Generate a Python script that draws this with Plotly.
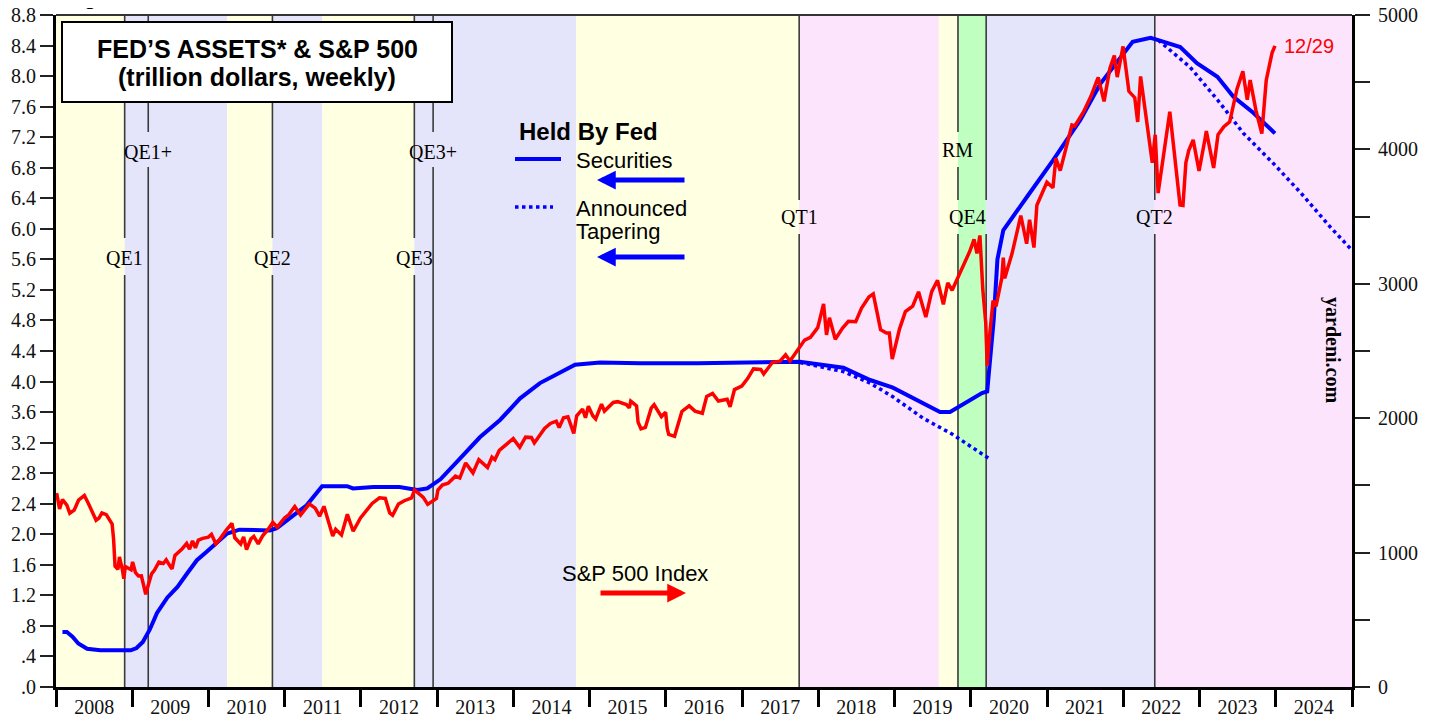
import plotly.graph_objects as go

# ---------------- data ----------------
sec_dates = ["2008-02-01","2008-02-22","2008-03-20","2008-04-17","2008-05-29","2008-07-31","2008-10-01","2008-12-24",
             "2009-01-21","2009-02-20","2009-03-25","2009-04-29","2009-06-17","2009-08-05","2009-09-21","2009-11-06","2009-12-23",
             "2010-03-31","2010-05-29","2010-10-22","2010-11-24","2011-01-26","2011-04-16","2011-06-29","2011-10-27","2011-11-24",
             "2012-02-29","2012-07-04","2012-09-27","2012-11-14","2013-01-16","2013-04-06","2013-07-24","2013-10-30",
             "2014-02-02","2014-05-08","2014-08-11","2014-10-23","2015-02-20","2015-09-01","2016-06-01","2017-03-01","2017-10-04",
             "2018-05-01","2018-09-06","2018-12-24","2019-04-01","2019-08-07","2019-09-24","2019-12-16","2020-02-24","2020-03-20",
             "2020-04-20","2020-05-08","2020-06-05","2020-09-27","2021-01-30","2021-06-10","2021-09-13","2022-02-15","2022-05-12",
             "2022-06-18","2022-10-01","2022-12-20","2023-03-28","2023-06-13","2023-09-16","2023-12-29"]
sec_values = [0.72,0.72,0.66,0.57,0.50,0.48,0.48,0.48,
              0.51,0.59,0.75,0.97,1.17,1.31,1.49,1.66,1.77,
              2.01,2.06,2.05,2.08,2.21,2.38,2.63,2.63,2.60,
              2.62,2.62,2.58,2.60,2.72,2.95,3.27,3.50,
              3.78,3.98,4.12,4.22,4.25,4.24,4.24,4.25,4.26,
              4.18,4.02,3.92,3.78,3.60,3.60,3.73,3.85,3.87,
              4.80,5.60,5.98,6.42,6.90,7.43,7.90,8.45,8.50,
              8.47,8.38,8.17,7.99,7.73,7.52,7.25]

taper_dates = ["2017-10-05","2018-05-01","2018-09-06","2018-12-24","2019-05-18","2019-10-05","2020-04-04", None,
               "2022-06-18","2022-11-16","2023-03-28","2023-07-31","2023-12-20","2024-05-01","2024-09-20","2024-12-25","2025-01-01"]
taper_values = [4.25,4.13,3.98,3.80,3.52,3.31,2.98, None,
                8.47,8.12,7.69,7.25,6.86,6.47,6.02,5.75,5.72]

sp_dates = ["2008-01-04","2008-01-18","2008-02-01","2008-02-22","2008-03-07","2008-03-28","2008-04-18","2008-05-16","2008-06-06","2008-06-27",
            "2008-07-11","2008-07-25","2008-08-08","2008-08-29","2008-09-12","2008-09-26","2008-10-03","2008-10-10","2008-10-24","2008-10-31",
            "2008-11-14","2008-11-21","2008-11-28","2008-12-12","2008-12-26",
            "2009-01-02","2009-01-16","2009-01-30","2009-02-13","2009-02-27","2009-03-06","2009-03-20","2009-04-03","2009-04-17","2009-05-08",
            "2009-05-29","2009-06-12","2009-07-02","2009-07-10","2009-07-24","2009-08-14","2009-08-28","2009-09-18","2009-10-02","2009-10-16",
            "2009-10-30","2009-11-13","2009-12-04","2009-12-31",
            "2010-01-15","2010-02-05","2010-02-26","2010-03-26","2010-04-23","2010-05-07","2010-05-21","2010-06-04","2010-06-18","2010-07-02",
            "2010-07-23","2010-08-06","2010-08-27","2010-09-17","2010-10-15","2010-11-05","2010-11-26","2010-12-31",
            "2011-01-21","2011-02-18","2011-03-18","2011-04-29","2011-05-27","2011-06-17","2011-07-08","2011-08-05","2011-08-19","2011-09-02",
            "2011-09-30","2011-10-28","2011-11-25","2011-12-30",
            "2012-01-27","2012-02-24","2012-03-30","2012-04-27","2012-05-18","2012-06-01","2012-06-29","2012-07-27","2012-08-31","2012-09-14",
            "2012-10-26","2012-11-16","2012-12-28",
            "2013-01-04","2013-01-25","2013-02-22","2013-03-29","2013-04-19","2013-05-17","2013-06-21","2013-07-19","2013-08-30","2013-09-20",
            "2013-10-04","2013-10-25","2013-11-29","2013-12-31",
            "2014-01-31","2014-02-28","2014-03-28","2014-04-11","2014-05-30","2014-06-27","2014-07-25","2014-08-08","2014-08-29","2014-09-19",
            "2014-10-17","2014-10-31","2014-11-28","2014-12-12","2014-12-26",
            "2015-01-16","2015-01-30","2015-02-27","2015-03-13","2015-04-24","2015-05-15","2015-06-26","2015-07-10","2015-07-17","2015-08-14",
            "2015-08-21","2015-09-04","2015-09-25","2015-10-23","2015-11-06","2015-12-11","2015-12-31",
            "2016-01-08","2016-01-15","2016-02-12","2016-03-18","2016-04-22","2016-05-20","2016-06-24","2016-07-15","2016-08-12","2016-09-09",
            "2016-10-21","2016-11-04","2016-11-25","2016-12-30",
            "2017-01-27","2017-02-24","2017-03-31","2017-04-14","2017-05-26","2017-06-30","2017-07-28","2017-08-18","2017-09-29","2017-10-27",
            "2017-11-24","2017-12-29",
            "2018-01-26","2018-02-09","2018-02-23","2018-03-23","2018-04-27","2018-05-25","2018-06-29","2018-07-27","2018-08-31","2018-09-21",
            "2018-10-12","2018-10-26","2018-11-23","2018-12-07","2018-12-21","2018-12-28",
            "2019-01-25","2019-02-22","2019-03-29","2019-04-26","2019-05-31","2019-06-28","2019-07-26","2019-08-23","2019-09-13","2019-10-04",
            "2019-10-25","2019-11-29","2019-12-27",
            "2020-01-17","2020-01-31","2020-02-14","2020-02-28","2020-03-13","2020-03-20","2020-03-27","2020-04-17","2020-05-01","2020-05-29",
            "2020-06-05","2020-06-12","2020-07-17","2020-08-28","2020-09-25","2020-10-09","2020-10-30","2020-11-13","2020-12-31",
            "2021-01-29","2021-02-12","2021-03-05","2021-04-30","2021-05-14","2021-06-25","2021-07-30","2021-08-27","2021-09-03","2021-10-01",
            "2021-10-29","2021-11-19","2021-12-03","2021-12-31",
            "2022-01-07","2022-01-28","2022-02-25","2022-03-11","2022-03-25","2022-04-29","2022-05-20","2022-06-03","2022-06-17","2022-07-29",
            "2022-08-12","2022-09-30","2022-10-14","2022-10-28","2022-11-11","2022-12-02","2022-12-30",
            "2023-01-27","2023-02-03","2023-03-10","2023-03-31","2023-04-28","2023-05-26","2023-06-30","2023-07-28","2023-08-18","2023-09-01",
            "2023-09-29","2023-10-27","2023-11-17","2023-12-15","2023-12-29"]
sp_values = [1443,1325,1395,1353,1293,1316,1390,1425,1360,1278,
             1240,1257,1296,1283,1252,1213,1099,899,876,968,
             873,805,896,880,872,
             931,850,826,827,735,690,768,842,870,929,
             919,946,896,879,979,1005,1029,1068,1025,1087,
             1036,1093,1106,1115,
             1136,1066,1104,1166,1217,1110,1087,1064,1117,1022,
             1102,1121,1065,1125,1176,1225,1189,1258,
             1283,1343,1279,1363,1331,1271,1344,1199,1124,1174,
             1131,1285,1159,1258,
             1316,1366,1408,1403,1295,1278,1362,1386,1407,1466,
             1411,1359,1402,
             1466,1503,1516,1569,1555,1667,1593,1692,1633,1710,
             1691,1760,1806,1848,
             1783,1859,1857,1816,1924,1961,1978,1931,2003,2011,
             1886,2018,2068,2003,2089,
             2019,1995,2105,2053,2117,2123,2102,2077,2127,2092,
             1971,1921,1931,2075,2100,2012,2044,
             1922,1880,1865,2050,2092,2053,2037,2162,2184,2128,
             2141,2085,2213,2239,
             2295,2367,2363,2329,2416,2423,2472,2426,2519,2581,
             2602,2674,
             2850,2620,2747,2588,2670,2721,2718,2819,2902,2925,
             2767,2659,2633,2633,2440,2485,
             2665,2793,2834,2940,2752,2942,3026,2847,3007,2952,
             3023,3141,3240,
             3330,3226,3360,2954,2711,2390,2541,2875,2831,3044,
             3194,3041,3225,3508,3298,3477,3270,3585,3756,
             3714,3934,3842,4181,4174,4281,4395,4509,4535,4357,
             4605,4698,4538,4766,
             4677,4432,4385,4204,4543,4132,3901,4109,3675,4130,
             4280,3586,3583,3901,3993,4071,3840,
             4071,4136,3862,4109,4169,4205,4450,4582,4370,4516,
             4288,4117,4514,4719,4770]

band_starts = ["2008-01-01","2008-11-25","2010-03-31","2010-11-03","2011-06-30","2012-09-13","2014-10-29",
               "2017-10-01","2019-08-01","2019-11-01","2020-03-15","2022-06-01"]
band_ends = ["2008-11-25","2010-03-31","2010-11-03","2011-06-30","2012-09-13","2014-10-29","2017-10-01",
             "2019-08-01","2019-11-01","2020-03-15","2022-06-01","2025-01-01"]
band_kinds = ["Y","B","Y","B","Y","B","Y","P","Y","G","B","P"]

event_names = ["QE1","QE1+","QE2","QE3","QE3+","QT1","RM","QE4","QT2"]
event_dates = ["2008-11-25","2009-03-18","2010-11-03","2012-09-13","2012-12-12","2017-10-01","2019-11-01","2020-03-15","2022-06-01"]

left_ticks = [round(0.4 * i, 1) for i in range(23)]
left_labels = [(f"{v:.1f}" if v >= 1 else f"{v:.1f}"[1:]) for v in left_ticks]
right_ticks = list(range(0, 5001, 500))
right_labels = [str(v) if v % 1000 == 0 else "" for v in right_ticks]
years = list(range(2008, 2025))

# ---------------- styling helpers ----------------
# screen-pixel frame of the plot area (page has an 8px body margin)
OFF = 8
W, H = 1433 - OFF, 721 - OFF
L, R, T, B = 56, 1352, 15, 687
def px(x):
    return (x - L) / (R - L)
def py(y):
    return (B - y) / (B - T)

band_colors = {"Y": "#FFFFE2", "B": "#E4E4FB", "P": "#FCE4FC", "G": "#BFFFBF"}
SERIF = "Liberation Serif"
SANS = "Liberation Sans"

fig = go.Figure()
fig.add_trace(go.Scatter(x=taper_dates, y=taper_values, mode="lines", connectgaps=False,
                         line=dict(color="#0000FF", width=3.5, dash="dot"), showlegend=False))
fig.add_trace(go.Scatter(x=sec_dates, y=sec_values, mode="lines",
                         line=dict(color="#0000FF", width=4), showlegend=False))
fig.add_trace(go.Scatter(x=sp_dates, y=sp_values, mode="lines", yaxis="y2",
                         line=dict(color="#FF0000", width=3.5), showlegend=False))

shapes = []
for s, e, k in zip(band_starts, band_ends, band_kinds):
    shapes.append(dict(type="rect", xref="x", yref="paper", x0=s, x1=e, y0=0, y1=1,
                       fillcolor=band_colors[k], line=dict(width=0), layer="below"))

# vertical event lines, broken where labels sit (pixel gaps)
gaps = {"QE1": [(238, 275)], "QE1+": [(132, 167)], "QE2": [(238, 275)], "QE3": [(238, 275)],
        "QE3+": [(132, 167)], "QT1": [(200, 234)], "RM": [(132, 167), (200, 234)],
        "QE4": [(200, 234)], "QT2": [(200, 234)]}
for name, d in zip(event_names, event_dates):
    edges = [T]
    for g0, g1 in gaps[name]:
        edges += [g0, g1]
    edges.append(B)
    for i in range(0, len(edges), 2):
        shapes.append(dict(type="line", xref="x", yref="paper", x0=d, x1=d,
                           y0=py(edges[i]), y1=py(edges[i + 1]),
                           line=dict(color="#3a3a3a", width=1.6), layer="below"))

# top frame line
shapes.append(dict(type="line", xref="paper", yref="paper", x0=0, x1=1, y0=1, y1=1,
                   line=dict(color="#333333", width=2)))
# title box
shapes.append(dict(type="rect", xref="paper", yref="paper", x0=px(62), x1=px(452), y0=py(102), y1=py(22),
                   fillcolor="white", line=dict(color="black", width=2)))
# legend samples
shapes.append(dict(type="line", xref="paper", yref="paper", x0=px(515), x1=px(561), y0=py(159), y1=py(159),
                   line=dict(color="#0000FF", width=4)))
shapes.append(dict(type="line", xref="paper", yref="paper", x0=px(515), x1=px(553), y0=py(207), y1=py(207),
                   line=dict(color="#0000FF", width=3.5, dash="dot")))

def txt(text, x, y, size, family=SANS, color="black", xanchor="left", **kw):
    return dict(text=text, xref="paper", yref="paper", x=px(x), y=py(y), showarrow=False,
                xanchor=xanchor, yanchor="middle", font=dict(family=family, size=size, color=color), **kw)

ann = []
label_rows = {"QE1": 258, "QE1+": 152, "QE2": 258, "QE3": 258, "QE3+": 152,
              "QT1": 217, "RM": 150, "QE4": 217, "QT2": 217}
label_shift = {"QE4": -19}
for name, d in zip(event_names, event_dates):
    ann.append(dict(text=name, xref="x", yref="paper", x=d, y=py(label_rows[name]),
                    xshift=label_shift.get(name, 0), showarrow=False,
                    font=dict(family=SERIF, size=20, color="black"), xanchor="center", yanchor="middle"))

ann += [
    dict(text="<b>Figure 1.</b>", xref="paper", yref="paper", x=px(62), y=py(11), xanchor="left",
         yanchor="bottom", showarrow=False, font=dict(family=SANS, size=22, color="black")),
    txt("<b>FED’S ASSETS* & S&P 500</b>", 257, 49, 25, xanchor="center"),
    txt("<b>(trillion dollars, weekly)</b>", 257, 77, 25, xanchor="center"),
    txt("<b>Held By Fed</b>", 517, 131, 24),
    txt("Securities", 574, 160, 22),
    txt("Announced", 574, 208, 22),
    txt("Tapering", 574, 232, 22),
    txt("S&P 500 Index", 560, 573, 22),
    txt("12/29", 1282, 46, 20, color="#FF0000"),
    txt("<b>yardeni.com</b>", 1333, 350, 20, family=SERIF, xanchor="center", textangle=90),
]
# arrows
for ytip, xtip, axoff, col in [(180, 597, 89, "#0000FF"), (257, 597, 89, "#0000FF"), (593, 686, -87, "#FF0000")]:
    ann.append(dict(text="", xref="paper", yref="paper", x=px(xtip), y=py(ytip), ax=axoff, ay=0,
                    showarrow=True, arrowhead=2, arrowsize=0.75, arrowwidth=5, arrowcolor=col, standoff=0))

fig.update_layout(
    width=W, height=H,
    margin=dict(l=L - OFF, r=W - (R - OFF), t=T - OFF, b=H - (B - OFF), autoexpand=False),
    paper_bgcolor="white", plot_bgcolor="white",
    shapes=shapes, annotations=ann, showlegend=False,
    xaxis=dict(type="date", range=["2008-01-01", "2025-01-01"],
               tickvals=[f"{y}-01-01" for y in years + [2025]],
               showticklabels=False, ticks="outside", ticklen=17, tickwidth=3, tickcolor="black",
               showline=True, linewidth=3, linecolor="black", showgrid=False, zeroline=False),
    xaxis2=dict(type="date", range=["2008-01-01", "2025-01-01"], overlaying="x", anchor="y", side="bottom",
                tickvals=[f"{y}-07-02" for y in years], ticktext=[str(y) for y in years],
                ticks="", showline=False, showgrid=False, zeroline=False, ticklabelstandoff=6,
                ticklabeloverflow="allow",
                tickfont=dict(family=SERIF, size=20, color="#111")),
    yaxis=dict(range=[0, 8.8], tickvals=left_ticks, ticktext=left_labels,
               ticks="outside", ticklen=13, tickwidth=2, tickcolor="#222", ticklabeloverflow="allow",
               showline=True, linewidth=3, linecolor="black", showgrid=False, zeroline=False,
               tickfont=dict(family=SERIF, size=20, color="#111")),
    yaxis2=dict(range=[0, 5000], overlaying="y", side="right", tickvals=right_ticks, ticktext=right_labels,
                ticks="outside", ticklen=15, tickwidth=2, tickcolor="#222", ticklabeloverflow="allow",
                ticklabelstandoff=4,
                showline=True, linewidth=3, linecolor="black", showgrid=False, zeroline=False,
                tickfont=dict(family=SERIF, size=20, color="#111")),
)
fig.add_trace(go.Scatter(x=["2008-01-01"], y=[0], xaxis="x2", mode="markers",
                         marker=dict(opacity=0), hoverinfo="skip", showlegend=False))
fig.write_html("out.html")
